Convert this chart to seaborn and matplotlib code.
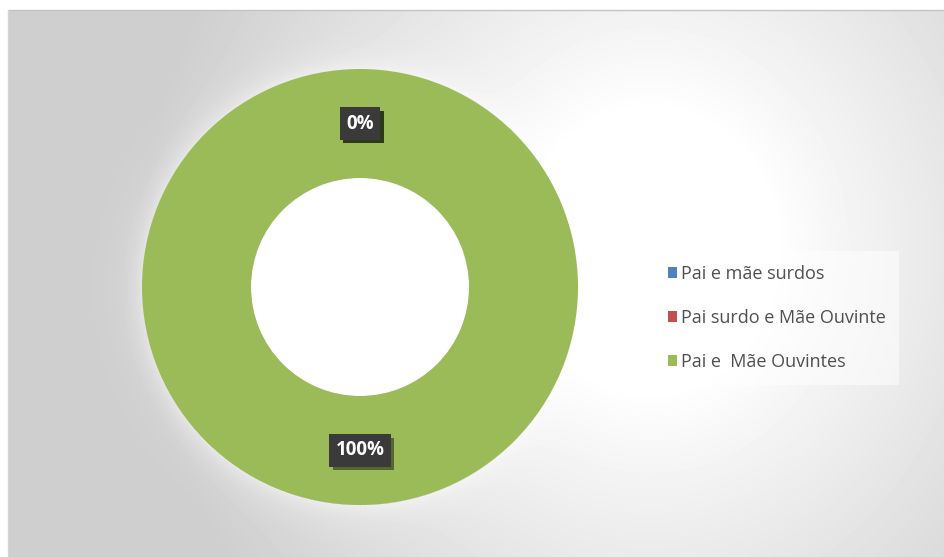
import numpy as np
import matplotlib
matplotlib.use("Agg")
import matplotlib.pyplot as plt
import matplotlib.patheffects as pe
from matplotlib.patches import Circle
import seaborn as sns

# Family composition of the respondents
categories = ["Pai e mãe surdos", "Pai surdo e Mãe Ouvinte", "Pai e  Mãe Ouvintes"]
values = [0, 0, 100]
colors = ["#4F81BD", "#C0504D", "#9BBB59"]

sns.set_theme(style="white")
palette = sns.color_palette(colors)
plt.rcParams["font.family"] = ["Open Sans", "DejaVu Sans"]

W, H = 945, 557
fig = plt.figure(figsize=(W / 100, H / 100), dpi=100)
fig.patch.set_facecolor("white")

# Panel with a soft radial light behind the chart
px0, py0 = 8, 10
pw, ph = W - px0, H - py0
bg_ax = fig.add_axes([px0 / W, 0, pw / W, ph / H])
yy, xx = np.mgrid[py0:H, px0:W].astype(float)
t = np.sqrt(((xx - 650) / 420.0) ** 2 + ((yy - 250) / 470.0) ** 2)
shade = np.clip((t - 0.3) / 0.9, 0, 1) ** 0.9
gray = 1.0 - 0.19 * shade
# light halo hugging the ring
d = np.sqrt((xx - 360) ** 2 + (yy - 287) ** 2)
halo = np.exp(-np.clip(d - 218, 0, None) / 14.0) * (d > 218)
gray = gray + (1.0 - gray) * 0.45 * halo
bg_ax.imshow(gray, cmap="gray", vmin=0, vmax=1, aspect="auto",
             interpolation="bilinear")
bg_ax.set_axis_off()
fig.add_artist(plt.Line2D([px0 / W, 1], [(H - py0) / H] * 2, color="#c4c4c4", lw=1))
fig.add_artist(plt.Line2D([px0 / W] * 2, [0, (H - py0) / H], color="#d4d4d4", lw=1))

# Doughnut
cx, cy, R = 360, 287, 218
ax = fig.add_axes([(cx - R) / W, (H - cy - R) / H, 2 * R / W, 2 * R / H])
ax.add_patch(Circle((0, 0), 0.5, fc="white", ec="none", zorder=0))
wedges, _, autotexts = ax.pie(
    values, colors=palette, startangle=90, counterclock=False, radius=1,
    autopct="%.0f%%", pctdistance=0.75,
    wedgeprops=dict(width=0.5, linewidth=0),
    textprops=dict(color="white", fontsize=13.5, fontweight="bold"),
)
ax.set_xlim(-1, 1)
ax.set_ylim(-1, 1)
ax.set_axis_off()
for txt in autotexts:
    txt.set_bbox(dict(boxstyle="square,pad=0.34", fc="#3a3a3a", ec="none"))
    txt.get_bbox_patch().set_path_effects([
        pe.SimplePatchShadow(offset=(2.5, -2.5), shadow_rgbFace="black", alpha=0.45),
        pe.Normal(),
    ])

leg = fig.legend(
    wedges, categories, loc="center left",
    bbox_to_anchor=(654 / W, 1 - 318 / H),
    frameon=True, fancybox=False,
    prop=dict(family=["Open Sans", "DejaVu Sans"], size=13),
    handlelength=0.55, handleheight=0.55, handletextpad=0.2,
    labelspacing=1.45, borderpad=0.75, borderaxespad=0,
)
frame = leg.get_frame()
frame.set_facecolor("white")
frame.set_alpha(0.55)
frame.set_edgecolor("none")
for text in leg.get_texts():
    text.set_color("#505050")

fig.savefig("out.png", dpi=100)
